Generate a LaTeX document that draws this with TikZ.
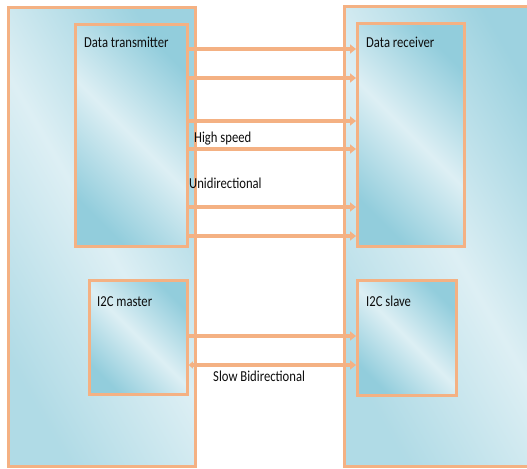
\documentclass[tikz,border=0pt]{standalone}
\usepackage{fontspec}
\setmainfont{Carlito}
\usetikzlibrary{arrows.meta}
\definecolor{bord}{HTML}{F4B183}
\definecolor{bdark}{HTML}{92CDDC}
\definecolor{blight}{HTML}{DDEFF4}
\definecolor{txt}{HTML}{0D0D0D}
\newcommand{\stretchtxt}[1]{\scalebox{1}[1.2]{#1}}
\tikzset{
  box/.style={draw=bord, line width=2.8bp, inner sep=0pt, anchor=north west,
    left color=bdark, right color=bdark, middle color=blight, shading angle=-45},
  outerbox/.style={box, left color=bdark!85!blight, right color=bdark!60!blight, middle color=blight, shading angle=-60},
  arr/.style={draw=bord, line width=3.2bp, -{Triangle[length=6bp,width=9bp]}},
  biarr/.style={draw=bord, line width=3.2bp, {Triangle[length=4bp,width=7bp]}-{Triangle[length=6bp,width=9bp]}},
  lab/.style={font=\fontsize{12.7}{14}\selectfont, text=txt, anchor=base west, inner sep=0pt}
}
\begin{document}
\begin{tikzpicture}[x=1bp,y=-1bp]
\useasboundingbox (0,0) rectangle (527,469);
\clip (0,0) rectangle (527,469);
\fill[white] (0,0) rectangle (527,469);
% outer boxes
\node[outerbox, minimum width=187bp, minimum height=459bp] (left) at (7,6) {};
\node[outerbox, minimum width=200bp, minimum height=460bp] (right) at (343,5) {};
% inner boxes
\node[box, minimum width=112bp, minimum height=222bp] (tx) at (74,23) {};
\node[box, minimum width=107bp, minimum height=223bp] (rx) at (356,22) {};
\node[box, minimum width=98bp, minimum height=114bp] (ms) at (88,279) {};
\node[box, minimum width=99bp, minimum height=115bp] (sl) at (356,279) {};
% labels
\node[lab] (ltx) at (84,48) {\stretchtxt{Data transmitter}};
\node[lab] (lrx) at (366,48) {\stretchtxt{Data receiver}};
\node[lab] (lms) at (97,306) {\stretchtxt{I2C master}};
\node[lab] (lsl) at (366,306) {\stretchtxt{I2C slave}};
\node[lab] (lhs) at (194,143) {\stretchtxt{High speed}};
\node[lab] (lud) at (189,189) {\stretchtxt{Unidirectional}};
\node[lab] (lsb) at (213,381) {\stretchtxt{Slow Bidirectional}};
% connectors
\foreach \yy in {49,78,121,149,207,236}{
  \draw[arr] (tx.east |- 0,\yy) -- (rx.west |- 0,\yy);
}
\draw[arr] (ms.east |- 0,336) -- (sl.west |- 0,336);
\draw[biarr] (ms.east |- 0,365) -- (sl.west |- 0,365);
\end{tikzpicture}
\end{document}
